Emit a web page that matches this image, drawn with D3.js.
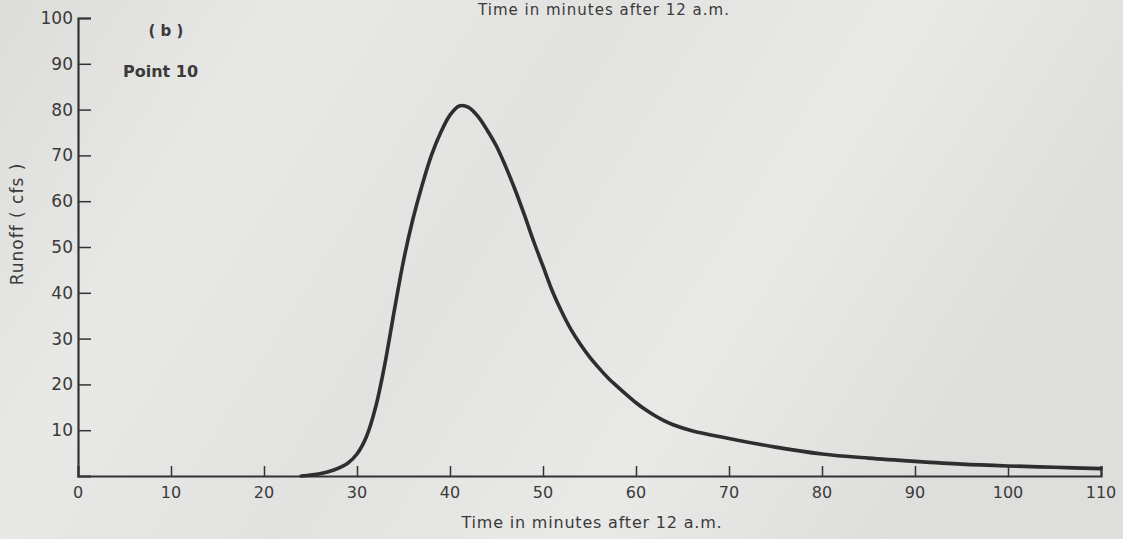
<!DOCTYPE html>
<html><head><meta charset="utf-8">
<script src="https://cdn.jsdelivr.net/npm/d3@7"></script>
<style>body{margin:0;background:#e3e3e1;}svg{display:block;}</style>
</head><body>
<script>
const time   = [24, 26, 27.5, 29, 30, 31, 32, 33, 34, 35, 36, 37, 38, 39, 40, 41, 42, 43, 44, 45, 46, 47, 48, 49, 50, 51, 52, 53, 54, 55, 56, 57, 58, 59, 60, 61, 62, 63, 64, 66, 70, 75, 80, 85, 90, 95, 100, 105, 110];
const runoff = [0, 0.5, 1.3, 2.8, 4.8, 8.5, 15, 24.5, 36, 47, 56, 63.5, 70, 75, 78.8, 80.8, 80.5, 78.5, 75.5, 72, 67.5, 62.5, 57, 51.2, 45.8, 40.4, 35.9, 32, 28.8, 26, 23.6, 21.4, 19.5, 17.7, 16, 14.5, 13.2, 12.1, 11.2, 9.9, 8.2, 6.3, 4.8, 3.9, 3.2, 2.6, 2.2, 1.9, 1.6];
const xTicks = [0,10,20,30,40,50,60,70,80,90,100,110];
const yTicks = [10,20,30,40,50,60,70,80,90,100];
const xTitle = "Time in minutes after  12 a.m.";
const yTitle = "Runoff  ( cfs )";
const panelLabel = "( b )";
const pointLabel = "Point  10";

const W = 1123, H = 539;
const svg = d3.select("body").append("svg").attr("width", W).attr("height", H);
const defs = svg.append("defs");
const g1 = defs.append("linearGradient").attr("id","paper").attr("x1","0").attr("x2","1").attr("y1","0").attr("y2","0.3");
[[0,"#dcdcda"],[0.25,"#e8e8e6"],[0.5,"#e2e2e0"],[0.75,"#e9e9e7"],[1,"#dededc"]].forEach(([o,c])=>g1.append("stop").attr("offset",o).attr("stop-color",c));
svg.append("rect").attr("width",W).attr("height",H).attr("fill","url(#paper)");

const font = "DejaVu Sans, Verdana, sans-serif";
const ink = "#3a3a3a";

const x = d3.scaleLinear().domain([0,110]).range([78,1101]);
const y = d3.scaleLinear().domain([0,100]).range([476,18]);

// text from the adjacent panel at the top edge
svg.append("text").attr("x",604).attr("y",15).attr("text-anchor","middle")
  .attr("font-family",font).attr("font-size",15).attr("fill",ink).attr("letter-spacing",1).text(xTitle);

// x axis
const xa = svg.append("g").attr("transform",`translate(0,${y(0)})`)
  .call(d3.axisTop(x).tickValues(xTicks).tickSize(10).tickFormat(""));
xa.select(".domain").attr("stroke","#333").attr("stroke-width",2.2);
xa.selectAll(".tick line").attr("stroke","#333").attr("stroke-width",1.5);
xa.selectAll(".tick").filter(d=>d===0).select("line").remove();
svg.append("g").selectAll("text").data(xTicks).join("text")
  .attr("x",d=>x(d)).attr("y",498).attr("text-anchor","middle")
  .attr("font-family",font).attr("font-size",16).attr("fill",ink).text(d=>d);

// y axis
const ya = svg.append("g").attr("transform",`translate(${x(0)},0)`)
  .call(d3.axisRight(y).tickValues(yTicks).tickSize(13).tickFormat(""));
ya.select(".domain").attr("stroke","#333").attr("stroke-width",2.2);
ya.selectAll(".tick line").attr("stroke","#333").attr("stroke-width",1.5);
svg.append("g").selectAll("text").data(yTicks).join("text")
  .attr("x",73).attr("y",d=>y(d)+6).attr("text-anchor","end")
  .attr("font-family",font).attr("font-size",17).attr("fill",ink).text(d=>d);

// titles
svg.append("text").attr("x",592).attr("y",528).attr("text-anchor","middle")
  .attr("font-family",font).attr("font-size",16).attr("fill",ink).attr("letter-spacing",0.8).text(xTitle);
svg.append("text").attr("transform","translate(23,224) rotate(-90)").attr("text-anchor","middle")
  .attr("font-family",font).attr("font-size",17).attr("fill",ink).attr("letter-spacing",1).text(yTitle);
svg.append("text").attr("x",166).attr("y",36).attr("text-anchor","middle")
  .attr("font-family",font).attr("font-size",15).attr("font-weight","bold").attr("fill",ink).text(panelLabel);
svg.append("text").attr("x",123).attr("y",77)
  .attr("font-family",font).attr("font-size",16).attr("font-weight","bold").attr("fill",ink).text(pointLabel);

// hydrograph
const line = d3.line().x((d,i)=>x(time[i])).y(d=>y(d)).curve(d3.curveCatmullRom.alpha(0.5));
svg.append("path").datum(runoff).attr("d",line).attr("fill","none")
  .attr("stroke","#2e2e2e").attr("stroke-width",3.6).attr("stroke-linecap","round").attr("stroke-linejoin","round");
</script>
</body></html>
